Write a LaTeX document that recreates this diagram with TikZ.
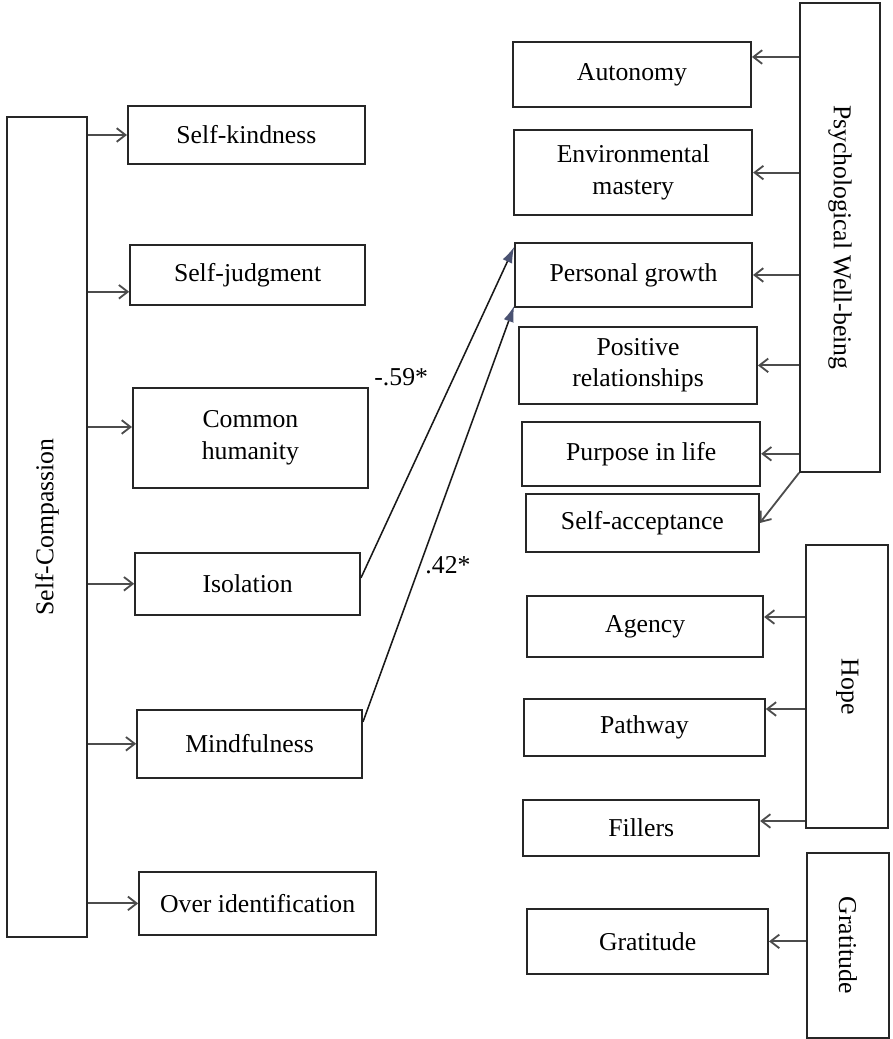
\documentclass[tikz,border=0pt]{standalone}
\usepackage{fontspec}
\setmainfont{Liberation Serif}
\usetikzlibrary{arrows.meta}
\definecolor{headblue}{HTML}{4A5272}

\begin{document}
\begin{tikzpicture}[
    font=\fontsize{18.3}{22.5}\selectfont,
    box/.style={draw=black!85, line width=1.3pt, align=center, inner sep=0pt},
    link/.style={draw=black!70, line width=1.3pt, -{Straight Barb[length=2.2mm,width=3.4mm,line width=1.3pt]}},
    effect/.style={draw=black!90, line width=1.1pt, -{Latex[length=4mm,width=2.6mm,color=headblue]}},
  ]
  \useasboundingbox (0,0) rectangle (22.3,25.975);

  % self-compassion and its six parts
  \node[box, minimum width=2cm, minimum height=20.5cm] (sc) at (1.175,12.8) {\rotatebox{90}{Self-Compassion}};
  \node[box, minimum width=5.925cm, minimum height=1.45cm] (sk) at (6.16,22.6) {Self-kindness};
  \node[box, minimum width=5.875cm, minimum height=1.5cm] (sj) at (6.19,19.1) {Self-judgment};
  \node[box, minimum width=5.875cm, minimum height=2.5cm] (ch) at (6.26,15.03) {Common\\humanity};
  \node[box, minimum width=5.625cm, minimum height=1.55cm] (iso) at (6.19,11.38) {Isolation};
  \node[box, minimum width=5.625cm, minimum height=1.7cm] (mind) at (6.24,7.38) {Mindfulness};
  \node[box, minimum width=5.925cm, minimum height=1.575cm] (oi) at (6.44,3.39) {Over identification};

  \draw[link] (sc.east |- sk.west) -- (sk.west);
  \draw[link] ([yshift=-0.42cm]sj.west -| sc.east) -- ([yshift=-0.42cm]sj.west);
  \draw[link] ([yshift=0.27cm]ch.west -| sc.east) -- ([yshift=0.27cm]ch.west);
  \draw[link] (sc.east |- iso.west) -- (iso.west);
  \draw[link] (sc.east |- mind.west) -- (mind.west);
  \draw[link] (sc.east |- oi.west) -- (oi.west);

  % psychological well-being
  \node[box, minimum width=2cm, minimum height=11.725cm] (pwb) at (21.0,20.04) {\rotatebox{-90}{Psychological Well-being}};
  \node[box, minimum width=5.95cm, minimum height=1.625cm] (aut) at (15.8,24.11) {Autonomy};
  \node[box, minimum width=5.95cm, minimum height=2.125cm] (env) at (15.83,21.66) {Environmental\\mastery};
  \node[box, minimum width=5.925cm, minimum height=1.6cm] (pg) at (15.84,19.1) {Personal growth};
  \node[box, minimum width=5.95cm, minimum height=1.925cm] (pr) at (15.95,16.84) {Positive\\relationships};
  \node[box, minimum width=5.95cm, minimum height=1.6cm] (pil) at (16.03,14.63) {Purpose in life};
  \node[box, minimum width=5.825cm, minimum height=1.45cm] (sa) at (16.06,12.9) {Self-acceptance};

  \draw[link] ([yshift=0.44cm]aut.east -| pwb.west) -- ([yshift=0.44cm]aut.east);
  \draw[link] (pwb.west |- env.east) -- (env.east);
  \draw[link] (pwb.west |- pg.east) -- (pg.east);
  \draw[link] (pwb.west |- pr.east) -- (pr.east);
  \draw[link] (pwb.west |- pil.east) -- (pil.east);
  \draw[link] (pwb.south west) -- (sa.east);

  % hope
  \node[box, minimum width=2.05cm, minimum height=7.075cm] (hope) at (21.18,8.81) {\rotatebox{-90}{Hope}};
  \node[box, minimum width=5.9cm, minimum height=1.525cm] (ag) at (16.13,10.31) {Agency};
  \node[box, minimum width=6.025cm, minimum height=1.425cm] (pw) at (16.11,7.79) {Pathway};
  \node[box, minimum width=5.9cm, minimum height=1.4cm] (fil) at (16.03,5.28) {Fillers};

  \draw[link] ([yshift=0.24cm]ag.east -| hope.west) -- ([yshift=0.24cm]ag.east);
  \draw[link] ([yshift=0.46cm]pw.east -| hope.west) -- ([yshift=0.46cm]pw.east);
  \draw[link] ([yshift=0.17cm]fil.east -| hope.west) -- ([yshift=0.17cm]fil.east);

  % gratitude
  \node[box, minimum width=2.05cm, minimum height=4.625cm] (grt) at (21.2,2.34) {\rotatebox{-90}{Gratitude}};
  \node[box, minimum width=6.025cm, minimum height=1.625cm] (gr) at (16.19,2.44) {Gratitude};

  \draw[link] (grt.west |- gr.east) -- (gr.east);

  % significant paths
  \draw[effect] ([yshift=0.15cm]iso.east) -- ([yshift=-0.12cm]pg.north west);
  \draw[effect] ([yshift=0.55cm]mind.east) -- ([yshift=0.05cm]pg.south west);
  \node (b59) at (10.03,16.54) {-.59*};
  \node (b42) at (11.2,11.85) {.42*};
\end{tikzpicture}
\end{document}
